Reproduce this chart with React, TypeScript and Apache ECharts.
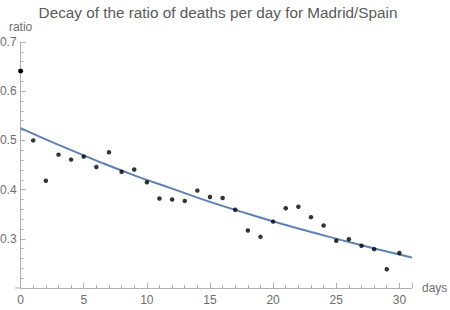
import React, { useEffect, useRef } from "react";
import * as echarts from "echarts";

const days = [0,1,2,3,4,5,6,7,8,9,10,11,12,13,14,15,16,17,18,19,20,21,22,23,24,25,26,27,28,29,30];
const ratios = [0.641,0.500,0.418,0.471,0.461,0.467,0.446,0.476,0.436,0.441,0.415,0.382,0.380,0.377,0.398,0.385,0.383,0.359,0.317,0.304,0.335,0.362,0.365,0.344,0.327,0.296,0.299,0.286,0.279,0.238,0.271];
const fitDays = [0,3,6,9,12,15,18,21,24,27,30,31];
const fitValues = [0.525,0.491,0.459,0.429,0.402,0.375,0.351,0.328,0.307,0.287,0.268,0.262];
const yTicks = ["0.3","0.4","0.5","0.6","0.7"];

const gray = "#b0b0b0";
const labelGray = "#6e6e6e";
const font = "Liberation Sans, Arial, sans-serif";

export default function App() {
  const ref = useRef<HTMLDivElement>(null);
  useEffect(() => {
    if (!ref.current) return;
    const chart = echarts.init(ref.current, undefined, { renderer: "svg" });
    const firstPoint = [[days[0], ratios[0]]];
    chart.setOption({
      animation: false,
      title: {
        text: "Decay of the ratio of deaths per day for Madrid/Spain",
        left: 213,
        textAlign: "center",
        top: 0,
        textStyle: { fontSize: 15.3, fontWeight: "normal", color: "#5a5a5a", fontFamily: font },
      },
      grid: { left: 20.6, right: 38, top: 42, bottom: 22, containLabel: false, outerBoundsMode: "none" },
      graphic: [
        {
          type: "line",
          shape: { x1: 15, y1: 288, x2: 21, y2: 288 },
          style: { stroke: gray, lineWidth: 1 },
        },
      ],
      xAxis: {
        type: "value",
        min: 0,
        max: 31,
        interval: 5,
        name: "days",
        nameLocation: "end",
        nameGap: 10,
        nameTextStyle: { color: labelGray, fontSize: 12, fontFamily: font },
        splitLine: { show: false },
        axisLine: { lineStyle: { color: gray, width: 1 } },
        axisTick: { inside: true, length: 5, lineStyle: { color: gray } },
        minorTick: { show: true, splitNumber: 5, length: 3, lineStyle: { color: gray } },
        axisLabel: {
          color: labelGray,
          fontSize: 12,
          margin: 6,
          fontFamily: font,
          showMaxLabel: false,
          formatter: (v: number) => (v % 5 === 0 ? String(v) : ""),
        },
      },
      yAxis: {
        type: "value",
        min: 0.2,
        max: 0.7,
        interval: 0.1,
        name: "ratio",
        nameLocation: "end",
        nameGap: 9,
        nameTextStyle: { color: labelGray, fontSize: 12, fontFamily: font },
        splitLine: { show: false },
        axisLine: { show: true, lineStyle: { color: gray, width: 1 } },
        axisTick: { show: true, inside: true, length: 5, lineStyle: { color: gray } },
        minorTick: { show: true, splitNumber: 5, length: 3, lineStyle: { color: gray } },
        axisLabel: {
          color: labelGray,
          fontSize: 12,
          margin: 4,
          fontFamily: font,
          formatter: (v: number) => {
            const s = v.toFixed(1);
            return yTicks.includes(s) ? s : "";
          },
        },
      },
      series: [
        {
          type: "line",
          data: fitDays.map((d, i) => [d, fitValues[i]]),
          smooth: true,
          showSymbol: false,
          lineStyle: { color: "#5e81b5", width: 2 },
          z: 2,
        },
        {
          type: "scatter",
          data: days.map((d, i) => [d, ratios[i]]),
          symbolSize: 4.5,
          itemStyle: { color: "#000" },
          z: 3,
        },
        { type: "scatter", clip: false, data: firstPoint, symbolSize: 4.5, itemStyle: { color: "#000" }, z: 3 },
        { type: "scatter", data: firstPoint, symbolSize: 4.5, itemStyle: { color: "#000" }, z: 3 },
      ],
    });
    return () => chart.dispose();
  }, []);
  return <div ref={ref} style={{ width: 450, height: 310, position: "absolute", left: 0, top: 0 }} />;
}
